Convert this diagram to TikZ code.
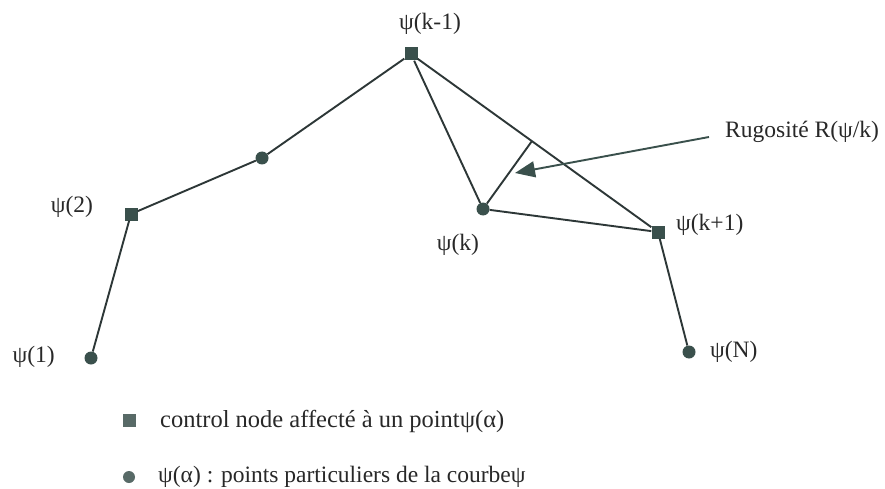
\documentclass[tikz,border=0pt]{standalone}
\usepackage{fontspec}
\setmainfont{Liberation Serif}
\usetikzlibrary{arrows.meta,calc}
\definecolor{linec}{RGB}{45,55,55}
\definecolor{markc}{RGB}{58,80,76}
\definecolor{textc}{RGB}{40,40,40}
\begin{document}
\begin{tikzpicture}[x=1pt,y=-1pt,
  sqnode/.style={rectangle, fill=markc, minimum size=13pt, inner sep=0pt},
  dotnode/.style={circle, fill=markc, minimum size=13pt, inner sep=0pt},
  lgsq/.style={rectangle, fill=markc!85, minimum size=13pt, inner sep=0pt},
  lgdot/.style={circle, fill=markc!85, minimum size=12pt, inner sep=0pt},
  lbl/.style={font=\fontsize{23.5}{27}\selectfont, text=textc, inner sep=0pt},
  edge/.style={draw=linec, line width=1.9pt},
  pointer/.style={draw=markc, line width=1.9pt, -{Triangle[length=20pt,width=16pt]}}]
\useasboundingbox (0,0) rectangle (885,489);
\fill[white] (0,0) rectangle (885,489);
% points
\node[dotnode] (p1) at (91,358) {};
\node[sqnode] (p2) at (131,214) {};
\node[dotnode] (pm) at (262,158) {};
\node[sqnode] (pkm1) at (411,54) {};
\node[dotnode] (pk) at (483,209) {};
\node[sqnode] (pkp1) at (658,232) {};
\node[dotnode] (pN) at (689,352) {};
% polyline
\draw[edge] (p1) -- (p2);
\draw[edge] (p2) -- (pm);
\draw[edge] (pm) -- (pkm1);
\draw[edge] (pkm1) -- (pk);
\draw[edge] (pk) -- (pkp1);
\draw[edge] (pkp1) -- (pN);
\draw[edge] (pkm1) -- (pkp1);
% roughness
\coordinate (foot) at ($(pkm1)!(pk)!(pkp1)$);
\draw[edge] (pk) -- (foot);
\coordinate (tail) at (709,137);
\coordinate (tip) at (515,173);
\draw[pointer] (tail) -- (tip);
% labels
\node[lbl] (lkm1) at (430,24) {ψ(k-1)};
\node[lbl] (l2) at (72,207) {ψ(2)};
\node[lbl, anchor=east] (l1) at (55,357) {ψ(1)};
\node[lbl] (lk) at (458,245) {ψ(k)};
\node[lbl, anchor=west] (lkp1) at (676,225) {ψ(k+1)};
\node[lbl, anchor=west] (lN) at (710,352) {ψ(N)};
\node[lbl, anchor=west] (rug) at (725,132) {Rugosité R(ψ/k)};
% legend
\node[lgsq] (lgs) at (129,420) {};
\node[lbl, font=\fontsize{24.5}{28}\selectfont, anchor=west] (lgst) at (160,421) {control node affecté à un pointψ(α)};
\node[lgdot] (lgd) at (129,477) {};
\node[lbl, anchor=west] (lgdt) at (158,477) {ψ(α) : points particuliers de la courbeψ};
\end{tikzpicture}
\end{document}
